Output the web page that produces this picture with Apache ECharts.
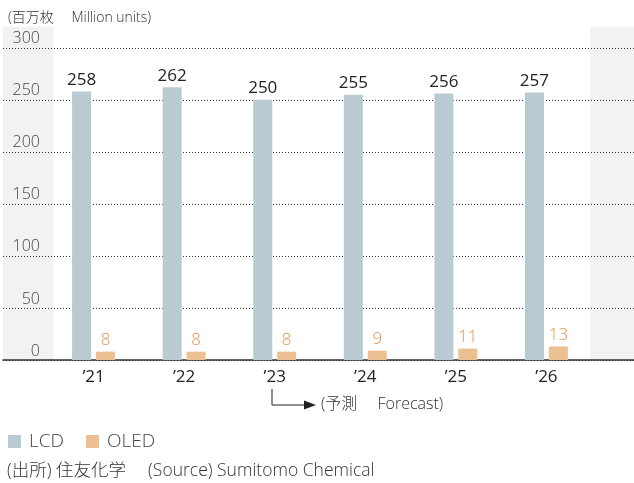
<!DOCTYPE html>
<html>
<head>
<meta charset="utf-8">
<title>LCD / OLED</title>
<script src="https://cdn.jsdelivr.net/npm/echarts@6/dist/echarts.min.js"></script>
<style>
  html, body { margin: 0; padding: 0; background: #fff; }
  #main { width: 634px; height: 483px; }
</style>
</head>
<body>
<div id="main"></div>
<script>
  var years = ['\u201921', '\u201922', '\u201923', '\u201924', '\u201925', '\u201926'];
  var lcd = [258, 262, 250, 255, 256, 257];
  var oled = [8, 8, 8, 9, 11, 13];
  var yTicks = [0, 50, 100, 150, 200, 250, 300];

  var FONT = '"Open Sans", "Noto Sans CJK JP", sans-serif';
  var myChart = echarts.init(document.getElementById('main'));

  function pairs(arr) {
    return arr.map(function (v, i) { return [i, v]; });
  }

  myChart.setOption({
    animation: false,
    textStyle: { fontFamily: FONT, fontWeight: 300 },
    grid: { left: 0, right: 0, top: 27, bottom: 123 },
    legend: {
      left: 3, top: 427,
      icon: 'rect', itemWidth: 13, itemHeight: 13, itemGap: 22,
      textStyle: { fontSize: 19, color: '#444', fontFamily: FONT, fontWeight: 300, padding: [0, 0, 0, 3] },
      data: ['LCD', 'OLED']
    },
    xAxis: {
      type: 'value', min: -1, max: 5.967, interval: 1,
      axisLine: { show: true, onZero: false, lineStyle: { color: '#333', width: 1.5 } },
      axisTick: { show: false },
      splitLine: { show: false },
      axisLabel: {
        margin: 9, fontSize: 17, color: '#222', fontWeight: 400,
        showMaxLabel: false,
        formatter: function (v) { return years[v] || ''; }
      }
    },
    yAxis: {
      type: 'value', min: 0, max: 320, interval: 50,
      axisLine: { show: false },
      axisTick: { show: false },
      axisLabel: {
        inside: true, margin: 37, align: 'right', verticalAlign: 'bottom',
        padding: [0, 0, 1, 0], fontSize: 16, color: '#444', fontWeight: 300,
        showMaxLabel: false,
        formatter: function (v) { return yTicks.indexOf(v) >= 0 ? v : ''; }
      },
      splitLine: { show: true, showMaxLine: false, lineStyle: { type: [1, 2], color: '#333', width: 1 } }
    },
    series: [{
      name: 'LCD', type: 'bar', data: pairs(lcd),
      barWidth: 19, barGap: '26%',
      itemStyle: { color: '#b9cad2' },
      label: { show: true, position: 'top', distance: 3, fontSize: 17, fontWeight: 400, color: '#222' },
      markArea: {
        silent: true, z: -1,
        itemStyle: { color: '#f1f2f4' },
        data: [
          [{ xAxis: -1, yAxis: 0 }, { xAxis: -0.445, yAxis: 320 }],
          [{ xAxis: 5.484, yAxis: 0 }, { xAxis: 5.967, yAxis: 320 }]
        ]
      }
    }, {
      name: 'OLED', type: 'bar', data: pairs(oled),
      barWidth: 19,
      itemStyle: { color: '#ecc192' },
      label: { show: true, position: 'top', distance: 3, fontSize: 17, fontWeight: 300, color: '#e3914a' }
    }],
    title: {
      text: '(百万枚　 Million units)', left: 3, top: 6,
      textStyle: { fontSize: 14, fontWeight: 300, color: '#333', fontFamily: FONT }
    },
    graphic: [
      { type: 'polyline', shape: { points: [[272, 389], [272, 405], [307, 405]] },
        style: { stroke: '#222', lineWidth: 1, fill: null } },
      { type: 'polygon', shape: { points: [[304, 400.5], [316, 405], [304, 409.5]] },
        style: { fill: '#222' } },
      { type: 'text', left: 321, top: 396,
        style: { text: '(予測　 Forecast)', fontSize: 16, fontWeight: 300, fill: '#333', fontFamily: FONT } },
      { type: 'text', left: 7, top: 462,
        style: { text: '(出所) 住友化学　 (Source) Sumitomo Chemical', fontSize: 17.5, fontWeight: 300, fill: '#333', fontFamily: FONT } }
    ]
  });
</script>
</body>
</html>
